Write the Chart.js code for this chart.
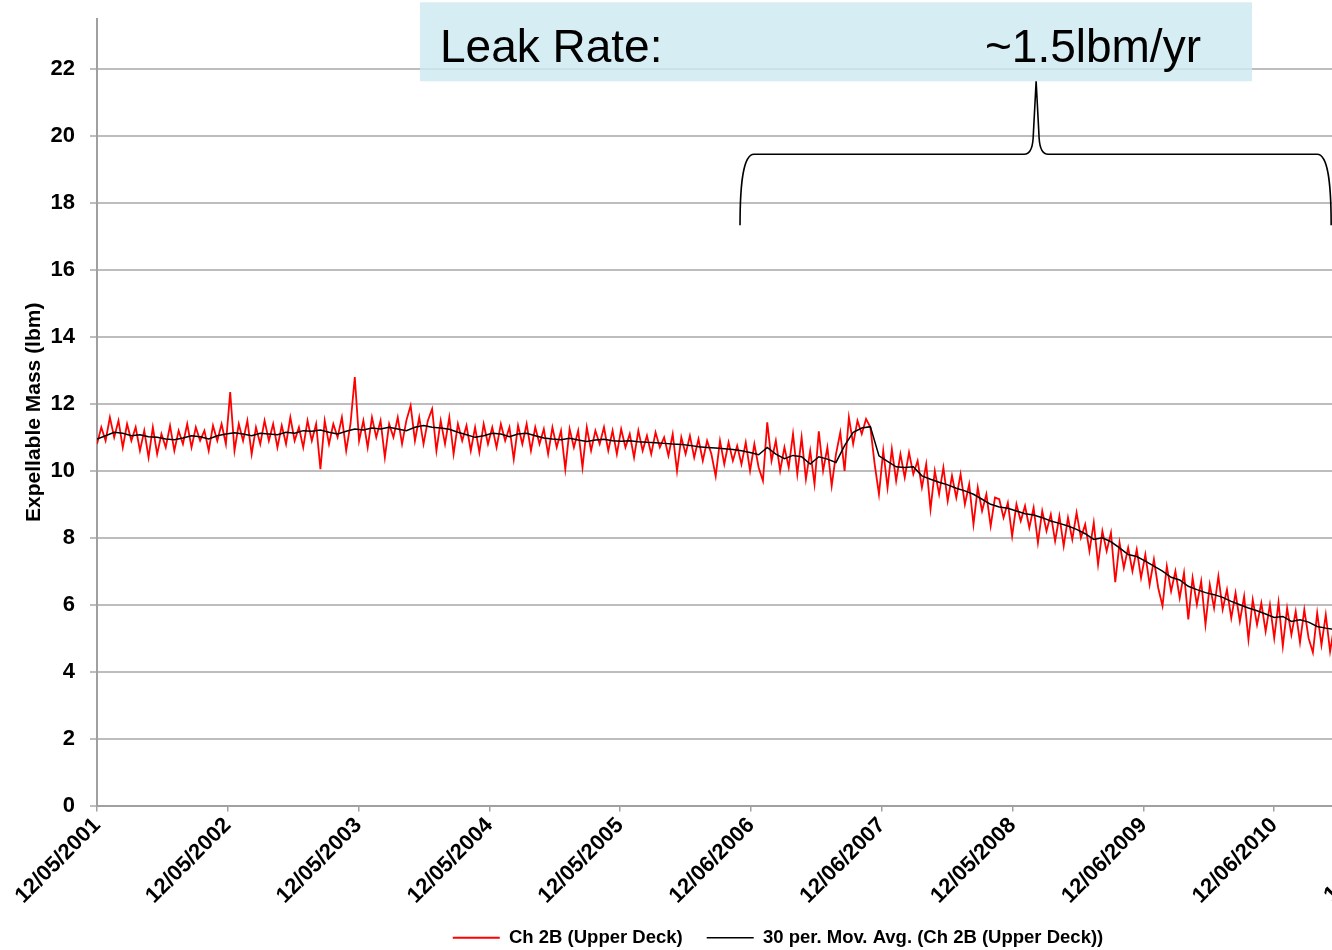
<!DOCTYPE html>
<html><head><meta charset="utf-8">
<script src="https://cdn.jsdelivr.net/npm/chart.js@4.4.1/dist/chart.umd.min.js"></script>
<style>
html,body{margin:0;padding:0;background:#fff;overflow:hidden;width:1332px;height:950px;}
#wrap{position:absolute;left:0;top:0;width:1576px;height:957px;}
</style></head><body>
<div id="wrap"><canvas id="c"></canvas></div>
<script>
// ---------------- data ----------------
const START_DATE = '12/05/2001';
const X_TICK_LABELS = ['12/05/2001','12/05/2002','12/05/2003','12/05/2004','12/05/2005','12/06/2006','12/06/2007','12/05/2008','12/06/2009','12/06/2010','12/06/2011'];
const Y_TICKS = [0,2,4,6,8,10,12,14,16,18,20,22];
const SERIES_NAMES = ['Ch 2B (Upper Deck)','30 per. Mov. Avg. (Ch 2B (Upper Deck))'];
const Y_TITLE = 'Expellable Mass (lbm)';
const ANNOTATION_TEXT = ['Leak Rate:','~1.5lbm/yr'];

// Ch 2B readings, one every 12 days from the start date
const RED_STEP_DAYS = 12;
const chRaw = [
 10.8,11.3,10.9,11.6,11.0,11.5,10.7,11.4,10.9,11.3,10.6,11.2,10.4,11.3,10.5,11.1,10.7,11.35,10.6,11.2,10.8,11.4,10.7,11.3,10.9,11.2,10.6,11.35,10.9,11.4,
 10.8,12.35,10.6,11.4,10.9,11.5,10.5,11.3,10.8,11.5,10.9,11.4,10.7,11.35,10.8,11.6,10.9,11.3,10.7,11.5,10.9,11.4,10.05,11.5,10.8,11.4,11.0,11.6,10.6,11.4,
 12.8,10.9,11.5,10.7,11.6,11.0,11.5,10.4,11.4,11.0,11.6,10.8,11.5,11.95,10.9,11.6,10.8,11.5,11.85,10.6,11.5,10.8,11.6,10.5,11.4,10.9,11.35,10.6,11.3,10.55,
 11.4,10.8,11.3,10.7,11.4,10.9,11.3,10.35,11.35,10.8,11.4,10.6,11.3,10.8,11.25,10.5,11.3,10.7,11.2,10.05,11.25,10.7,11.2,10.1,11.3,10.6,11.2,10.8,11.3,10.6,
 11.2,10.5,11.25,10.7,11.1,10.4,11.2,10.6,11.05,10.5,11.15,10.7,11.0,10.45,11.1,9.99,11.0,10.5,11.05,10.4,10.95,10.3,10.9,10.5,9.84,10.9,10.2,10.85,10.3,10.75,
 10.2,10.85,10.0,10.8,10.1,9.7,11.45,10.3,10.9,10.0,10.7,10.1,11.1,9.9,11.0,9.75,10.6,9.6,11.18,10.0,10.7,9.55,10.5,11.15,10.0,11.6,10.8,11.5,11.1,11.55,
 11.3,10.2,9.3,10.6,9.5,10.65,9.7,10.5,9.8,10.55,9.9,10.3,9.5,10.2,8.85,10.0,9.3,10.1,9.1,9.85,9.2,9.9,9.0,9.6,8.4,9.5,8.8,9.3,8.35,9.2,
 9.15,8.6,9.05,8.05,9.0,8.5,8.95,8.3,8.9,7.85,8.8,8.2,8.7,7.9,8.65,7.75,8.6,7.95,8.75,8.0,8.4,7.6,8.45,7.2,8.2,7.6,8.15,6.67,7.85,7.1,
 7.7,7.0,7.65,6.8,7.5,6.6,7.35,6.5,5.96,7.15,6.4,7.0,6.2,6.95,5.56,6.8,6.0,6.7,5.4,6.6,5.9,6.85,5.86,6.45,5.6,6.35,5.5,6.25,4.96,6.15,
 5.4,6.05,5.2,6.0,5.0,6.07,4.76,5.9,5.1,5.8,4.87,5.85,5.0,4.57,5.75,4.8,5.7,4.6,5.4
];

// 30-period moving average, read every 24 days
const MA_STEP_DAYS = 24;
const chMovAvg = [
 10.95,11.05,11.15,11.12,11.05,11.08,11.02,11.0,10.95,10.93,10.98,11.05,11.02,10.95,11.05,11.1,11.14,11.1,11.05,11.12,
 11.1,11.08,11.15,11.12,11.2,11.18,11.22,11.15,11.1,11.18,11.25,11.22,11.28,11.25,11.3,11.25,11.2,11.3,11.35,11.3,
 11.28,11.24,11.15,11.08,11.0,11.05,11.12,11.1,11.02,11.1,11.12,11.05,10.98,10.95,10.93,10.97,10.92,10.88,10.92,10.94,
 10.9,10.88,10.9,10.87,10.85,10.84,10.82,10.8,10.79,10.76,10.72,10.7,10.68,10.66,10.64,10.6,10.55,10.48,10.7,10.5,
 10.36,10.46,10.42,10.2,10.42,10.35,10.25,10.75,11.15,11.28,11.32,10.45,10.28,10.12,10.1,10.12,9.85,9.75,9.66,9.58,
 9.48,9.4,9.3,9.15,9.0,8.92,8.88,8.8,8.72,8.68,8.6,8.5,8.43,8.35,8.25,8.12,7.95,8.0,7.88,7.7,
 7.5,7.44,7.3,7.15,7.0,6.82,6.74,6.55,6.45,6.36,6.3,6.22,6.1,6.0,5.9,5.82,5.72,5.62,5.65,5.5,
 5.55,5.48,5.35,5.3,5.26
];

// annotation placement (x in days from start, y in lbm)
const BOX = {x0: 902, x1: 3226, yTop: 24.0, yBottom: 21.64};
const TEXT_POS = [{x: 958, y: 22.21}, {x: 2480, y: 22.21}];
const BRACE = {x0: 1796, x1: 3447, xTip: 2623, yLeg: 17.34, yBar: 19.46, yTip: 21.64};

// ---------------- helpers ----------------
function daysFromStart(s){
  const [m,d,y] = s.split('/').map(Number);
  const [m0,d0,y0] = START_DATE.split('/').map(Number);
  return Math.round((Date.UTC(y,m-1,d) - Date.UTC(y0,m0-1,d0)) / 86400000);
}
const tickDays = X_TICK_LABELS.map(daysFromStart);
const FONT = "'Liberation Sans', Arial, Helvetica, sans-serif";

const annotationPlugin = {
  id: 'leakAnnotation',
  afterDraw(chart){
    const {ctx, scales:{x, y}} = chart;
    ctx.save();
    const bx0 = x.getPixelForValue(BOX.x0), bx1 = x.getPixelForValue(BOX.x1);
    const by0 = y.getPixelForValue(BOX.yTop), by1 = y.getPixelForValue(BOX.yBottom);
    ctx.fillStyle = 'rgba(205,234,240,0.82)';
    ctx.fillRect(bx0, by0, bx1 - bx0, by1 - by0);
    ctx.fillStyle = '#000';
    ctx.font = '46px ' + FONT;
    ctx.textBaseline = 'alphabetic';
    ctx.textAlign = 'left';
    ANNOTATION_TEXT.forEach((t,i) => ctx.fillText(t, x.getPixelForValue(TEXT_POS[i].x), y.getPixelForValue(TEXT_POS[i].y)));
    // curly brace
    const L = x.getPixelForValue(BRACE.x0), R = x.getPixelForValue(BRACE.x1), C = x.getPixelForValue(BRACE.xTip);
    const yb = y.getPixelForValue(BRACE.yLeg), ym = y.getPixelForValue(BRACE.yBar), yt = y.getPixelForValue(BRACE.yTip);
    ctx.strokeStyle = '#000';
    ctx.lineWidth = 1.6;
    ctx.beginPath();
    ctx.moveTo(L, yb);
    ctx.bezierCurveTo(L, ym + 30, L + 3, ym, L + 14, ym);
    ctx.lineTo(C - 12, ym);
    ctx.quadraticCurveTo(C - 4, ym, C - 3, ym - 16);
    ctx.lineTo(C, yt);
    ctx.lineTo(C + 3, ym - 16);
    ctx.quadraticCurveTo(C + 4, ym, C + 12, ym);
    ctx.lineTo(R - 14, ym);
    ctx.bezierCurveTo(R - 3, ym, R, ym + 30, R, yb);
    ctx.stroke();
    ctx.restore();
  }
};

new Chart(document.getElementById('c'), {
  type: 'line',
  data: {
    datasets: [
      {label: SERIES_NAMES[0], data: chRaw.map((v,i) => ({x: i*RED_STEP_DAYS, y: v})),
       borderColor: '#ff0000', backgroundColor: '#ff0000', borderWidth: 1.8, pointRadius: 0, tension: 0, order: 1},
      {label: SERIES_NAMES[1], data: chMovAvg.map((v,i) => ({x: i*MA_STEP_DAYS, y: v})),
       borderColor: '#000000', backgroundColor: '#000000', borderWidth: 1.5, pointRadius: 0, tension: 0, order: 0}
    ]
  },
  options: {
    responsive: true, maintainAspectRatio: false, animation: false, events: [],
    layout: {padding: {top: 19, right: 20, left: 0, bottom: 0}},
    plugins: {
      tooltip: {enabled: false},
      legend: {
        position: 'bottom',
        labels: {
          usePointStyle: true, pointStyle: 'line', pointStyleWidth: 47, padding: 24,
          color: '#000', font: {family: FONT, size: 18.5, weight: 'bold'},
          sort: (a,b) => a.datasetIndex - b.datasetIndex
        }
      }
    },
    scales: {
      x: {
        type: 'linear', min: 0, max: 4075,
        afterBuildTicks(s){ s.ticks = tickDays.map(v => ({value: v})); },
        afterFit(s){ s.height = 99; },
        grid: {drawOnChartArea: false, drawTicks: true, tickLength: 6, color: '#a0a0a0', lineWidth: 1.5},
        border: {color: '#a0a0a0', width: 2},
        ticks: {autoSkip: false, maxRotation: 45, minRotation: 45, padding: 1, color: '#000',
                font: {family: FONT, size: 22, weight: 'bold'},
                callback: (v) => { const k = tickDays.indexOf(v); return k >= 0 ? X_TICK_LABELS[k] : ''; }}
      },
      y: {
        min: 0, max: 23.5,
        afterBuildTicks(s){ s.ticks = Y_TICKS.map(v => ({value: v})); },
        afterFit(s){ s.width = 97; s.paddingTop = 0; s.paddingBottom = 0; },
        grid: {color: '#bdbdbd', lineWidth: 2, tickLength: 7},
        border: {color: '#a0a0a0', width: 2},
        ticks: {padding: 15, color: '#000', font: {family: FONT, size: 22, weight: 'bold'}},
        title: {display: true, text: Y_TITLE, color: '#000', font: {family: FONT, size: 21, weight: 'bold'}, padding: {top: 22, bottom: 0}}
      }
    }
  },
  plugins: [annotationPlugin]
});
</script>
</body></html>
